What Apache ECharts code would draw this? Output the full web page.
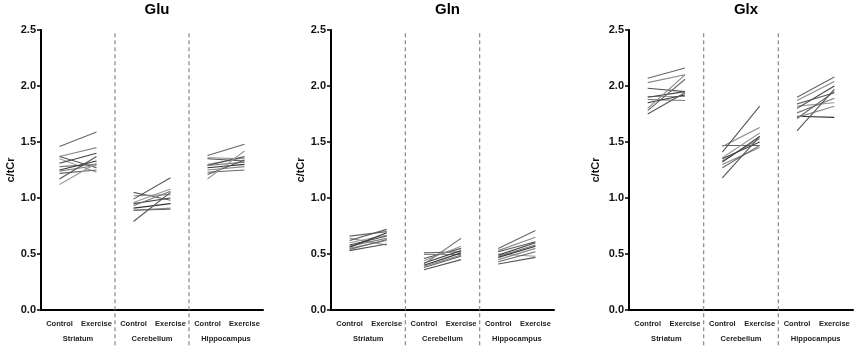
<!DOCTYPE html>
<html>
<head>
<meta charset="utf-8">
<script src="https://cdn.jsdelivr.net/npm/echarts@6/dist/echarts.min.js"></script>
<style>
  html, body { margin: 0; padding: 0; background: #fff; }
  #chart { width: 856px; height: 348px; }
</style>
</head>
<body>
<div id="chart"></div>
<script>
const panels = ["Glu", "Gln", "Glx"];
const categories = ["Control", "Exercise", "Control", "Exercise", "Control", "Exercise"];
const regions = ["Striatum", "Cerebellum", "Hippocampus"];
const yTicks = [0, 0.5, 1.0, 1.5, 2.0, 2.5];

// Glu
const gluStriatumControl = [1.46, 1.37, 1.37, 1.35, 1.31, 1.28, 1.25, 1.24, 1.22, 1.17, 1.12];
const gluStriatumExercise = [1.59, 1.45, 1.27, 1.23, 1.40, 1.30, 1.33, 1.29, 1.25, 1.37, 1.31];
const gluCerebellumControl = [1.05, 1.02, 0.99, 0.96, 0.95, 0.93, 0.91, 0.89, 0.89, 0.79];
const gluCerebellumExercise = [0.98, 1.03, 1.18, 1.08, 1.00, 1.06, 0.95, 0.91, 0.90, 1.05];
const gluHippocampusControl = [1.38, 1.36, 1.35, 1.30, 1.29, 1.29, 1.27, 1.25, 1.23, 1.21, 1.17];
const gluHippocampusExercise = [1.48, 1.35, 1.33, 1.36, 1.37, 1.32, 1.30, 1.28, 1.25, 1.34, 1.42];

// Gln
const glnStriatumControl = [0.66, 0.64, 0.62, 0.60, 0.58, 0.57, 0.56, 0.55, 0.54, 0.53];
const glnStriatumExercise = [0.70, 0.58, 0.72, 0.67, 0.66, 0.64, 0.69, 0.62, 0.63, 0.59];
const glnCerebellumControl = [0.51, 0.50, 0.46, 0.44, 0.42, 0.41, 0.40, 0.39, 0.38, 0.36];
const glnCerebellumExercise = [0.52, 0.50, 0.55, 0.57, 0.53, 0.64, 0.51, 0.49, 0.48, 0.45];
const glnHippocampusControl = [0.55, 0.53, 0.52, 0.50, 0.49, 0.48, 0.47, 0.45, 0.43, 0.41];
const glnHippocampusExercise = [0.71, 0.65, 0.61, 0.48, 0.60, 0.58, 0.57, 0.55, 0.52, 0.47];

// Glx
const glxStriatumControl = [2.07, 2.03, 1.98, 1.91, 1.90, 1.88, 1.85, 1.80, 1.78, 1.75];
const glxStriatumExercise = [2.16, 2.10, 1.95, 1.91, 1.95, 1.87, 1.92, 2.10, 2.06, 1.94];
const glxCerebellumControl = [1.47, 1.46, 1.41, 1.36, 1.35, 1.33, 1.32, 1.30, 1.27, 1.18];
const glxCerebellumExercise = [1.47, 1.63, 1.82, 1.58, 1.50, 1.53, 1.55, 1.45, 1.47, 1.55];
const glxHippocampusControl = [1.90, 1.87, 1.84, 1.82, 1.80, 1.76, 1.73, 1.72, 1.71, 1.60];
const glxHippocampusExercise = [2.08, 2.04, 1.94, 1.85, 2.00, 1.89, 1.72, 1.82, 1.95, 1.97];

const panelData = [
  [[gluStriatumControl, gluStriatumExercise], [gluCerebellumControl, gluCerebellumExercise], [gluHippocampusControl, gluHippocampusExercise]],
  [[glnStriatumControl, glnStriatumExercise], [glnCerebellumControl, glnCerebellumExercise], [glnHippocampusControl, glnHippocampusExercise]],
  [[glxStriatumControl, glxStriatumExercise], [glxCerebellumControl, glxCerebellumExercise], [glxHippocampusControl, glxHippocampusExercise]],
];

const grays = ["#666", "#888", "#555", "#999", "#444", "#777", "#333", "#888", "#666", "#555", "#999"];

const grids = [
  { left: 41, right: 593, top: 30, bottom: 38 },
  { left: 331, right: 302, top: 30, bottom: 38 },
  { left: 629, right: 3, top: 30, bottom: 38 },
];
const nameGaps = [23, 25, 28];
const font = "Liberation Sans";

const chart = echarts.init(document.getElementById("chart"));

const option = {
  animation: false,
  title: panels.map((t, i) => ({
    text: t,
    left: grids[i].left + (856 - grids[i].left - grids[i].right) / 2,
    textAlign: "center",
    top: -3,
    textStyle: { fontFamily: font, fontWeight: "bold", fontSize: 15, color: "#000" },
  })),
  grid: grids,
  xAxis: [],
  yAxis: [],
  series: [],
};

panels.forEach((p, i) => {
  option.xAxis.push({
    type: "category",
    gridIndex: i,
    data: categories,
    boundaryGap: true,
    axisLine: { lineStyle: { color: "#000", width: 2 } },
    axisTick: { alignWithLabel: true, length: 4, lineStyle: { color: "#000", width: 1.5 } },
    axisLabel: { interval: 0, margin: 10, fontFamily: font, fontWeight: "bold", fontSize: 7.5, color: "#222" },
    splitLine: { show: false },
  });
  option.xAxis.push({
    type: "category",
    gridIndex: i,
    data: regions,
    position: "bottom",
    offset: 18,
    axisLine: { show: false },
    axisTick: { show: false },
    axisLabel: { interval: 0, margin: 7, fontFamily: font, fontWeight: "bold", fontSize: 7.5, color: "#222" },
  });
  option.yAxis.push({
    type: "value",
    gridIndex: i,
    min: 0,
    max: 2.5,
    interval: 0.5,
    name: "c/tCr",
    nameLocation: "middle",
    nameGap: nameGaps[i],
    nameTextStyle: { fontFamily: font, fontWeight: "bold", fontSize: 11, color: "#111" },
    axisLine: { show: true, lineStyle: { color: "#000", width: 2 } },
    axisTick: { show: true, length: 4, lineStyle: { color: "#000", width: 1.5 } },
    axisLabel: {
      margin: 5,
      fontFamily: font,
      fontWeight: "bold",
      fontSize: 11,
      color: "#111",
      formatter: (v) => (yTicks.includes(v) ? v.toFixed(1) : ""),
    },
    splitLine: { show: false },
  });

  const items = [];
  panelData[i].forEach((pair, g) => {
    const [ctrl, ex] = pair;
    ctrl.forEach((c, k) => {
      items.push({
        coords: [[g * 2, c], [g * 2 + 1, ex[k]]],
        lineStyle: { color: grays[k % grays.length] },
      });
    });
  });
  option.series.push({
    type: "lines",
    coordinateSystem: "cartesian2d",
    xAxisIndex: i * 2,
    yAxisIndex: i,
    polyline: false,
    silent: true,
    lineStyle: { width: 1.1, opacity: 1 },
    data: items,
  });

  // dashed separators between the regions
  option.series.push({
    type: "custom",
    xAxisIndex: i * 2,
    yAxisIndex: i,
    clip: false,
    silent: true,
    data: [[1, 2.47], [3, 2.47]],
    renderItem: (params, api) => {
      const a = api.coord([api.value(0), api.value(1)]);
      const b = api.coord([api.value(0) + 1, api.value(1)]);
      const base = api.coord([api.value(0), 0]);
      const x = (a[0] + b[0]) / 2;
      return {
        type: "line",
        shape: { x1: x, y1: a[1], x2: x, y2: base[1] + 36 },
        style: { stroke: "#888", lineWidth: 1.2, lineDash: [4, 3] },
      };
    },
  });
});

chart.setOption(option);
</script>
</body>
</html>
